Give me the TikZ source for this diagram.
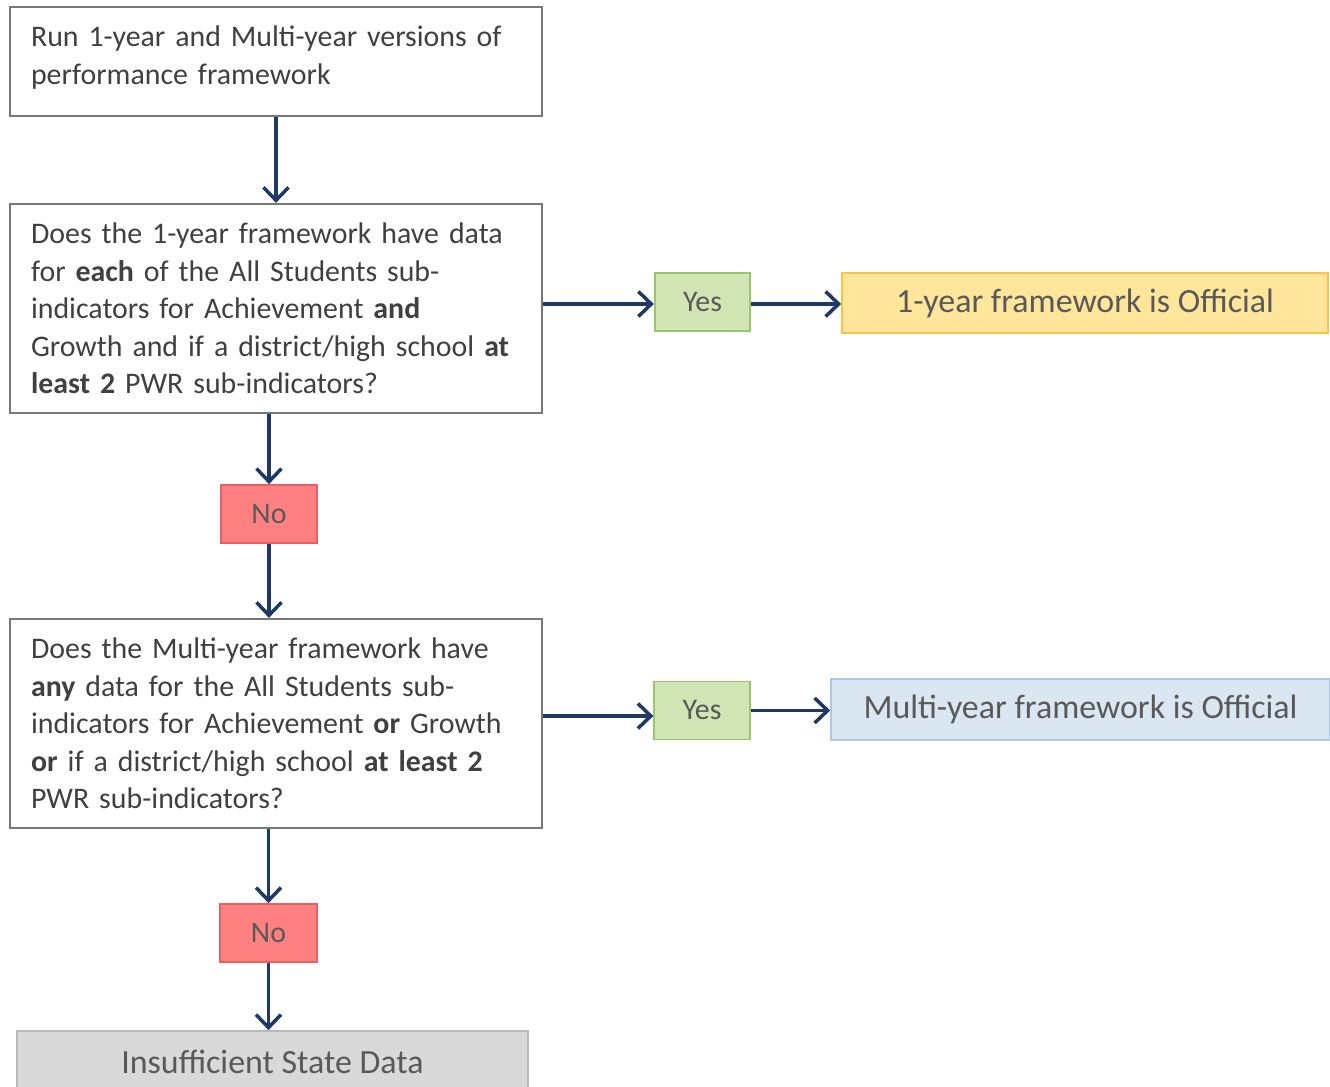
\documentclass[tikz,border=0pt]{standalone}
\usepackage{fontspec}
\setmainfont{Carlito}
\usetikzlibrary{arrows.meta}
\definecolor{navy}{RGB}{31,56,100}
\definecolor{txtgray}{RGB}{64,64,64}
\definecolor{lblgray}{RGB}{89,89,89}
\definecolor{boxline}{RGB}{120,120,120}
\definecolor{yesfill}{RGB}{209,230,180}
\definecolor{yesline}{RGB}{150,200,105}
\definecolor{nofill}{RGB}{255,128,128}
\definecolor{noline}{RGB}{235,95,95}
\definecolor{onefill}{RGB}{255,230,155}
\definecolor{oneline}{RGB}{250,195,70}
\definecolor{multifill}{RGB}{218,230,242}
\definecolor{multiline}{RGB}{175,200,230}
\definecolor{insfill}{RGB}{217,217,217}
\definecolor{insline}{RGB}{185,185,185}
\begin{document}
\begin{tikzpicture}[x=0.02cm,y=-0.02cm]
\tikzstyle{every node}=[font=\fontsize{17}{21.3}\selectfont,inner sep=0pt]
\tikzstyle{qbox}=[draw=boxline,line width=1.3pt,fill=white,text=txtgray,
                  minimum width=10.64cm,text width=9.8cm,align=left]
\tikzstyle{yesbox}=[draw=yesline,line width=1pt,fill=yesfill,text=lblgray,
                    minimum width=1.91cm,minimum height=1.16cm]
\tikzstyle{nobox}=[draw=noline,line width=1pt,fill=nofill,text=lblgray,
                   minimum width=1.93cm,minimum height=1.16cm]
\tikzstyle{endbox}=[line width=1pt,text=lblgray,font=\fontsize{19.3}{23}\selectfont]
\tikzstyle{arr}=[draw=navy,line width=2pt,-{Straight Barb[length=2.6mm,width=5mm]}]
\clip (0,0) rectangle (1330,1087);
\node[qbox,minimum height=2.18cm] (run) at (276,61.5)
  {Run 1-year and Multi-year versions of\\performance framework\par\vspace{0.16cm}};
\node[qbox,minimum height=4.18cm] (q1) at (276,308.5)
  {Does the 1-year framework have data\\
   for \textbf{each} of the All Students sub-\\
   indicators for Achievement \textbf{and}\\
   Growth and if a district/high school \textbf{at}\\
   \textbf{least 2} PWR sub-indicators?};
\node[yesbox] (yes1) at (702.5,302) {Yes};
\node[endbox,draw=oneline,fill=onefill,minimum width=9.72cm,minimum height=1.2cm]
  (off1) at (1085,303) {1-year framework is Official};
\node[nobox] (no1) at (269,514) {No};
\node[qbox,minimum height=4.18cm] (q2) at (276,723.5)
  {Does the Multi-year framework have\\
   \textbf{any} data for the All Students sub-\\
   indicators for Achievement \textbf{or} Growth\\
   \textbf{or} if a district/high school \textbf{at least 2}\\
   PWR sub-indicators?};
\node[yesbox] (yes2) at (702,710.5) {Yes};
\node[endbox,draw=multiline,fill=multifill,minimum width=9.98cm,minimum height=1.22cm]
  (off2) at (1080.5,709.5) {Multi-year framework is Official};
\node[nobox] (no2) at (268.5,933) {No};
\node[endbox,draw=insline,fill=insfill,minimum width=10.22cm,minimum height=1.24cm]
  (insuf) at (272.5,1062) {Insufficient State Data};
\draw[arr] (run.south) -- (q1.north);
\draw[arr] (q1.east |- 0,304) -- (yes1.west |- 0,304);
\draw[arr] (yes1.east |- 0,304) -- (off1.west |- 0,304);
\draw[arr] (no1.north |- q1.south) -- (no1.north);
\draw[arr] (no1.south) -- (no1.south |- q2.north);
\draw[arr] (q2.east |- 0,716) -- (yes2.west |- 0,716);
\draw[arr] (yes2.east) -- (off2.west |- yes2.east);
\draw[arr] (no2.north |- q2.south) -- (no2.north);
\draw[arr] (no2.south) -- (no2.south |- insuf.north);
\end{tikzpicture}
\end{document}
